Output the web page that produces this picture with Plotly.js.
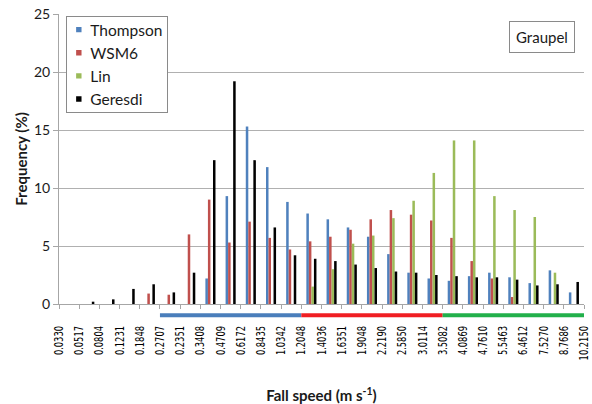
<!DOCTYPE html>
<html>
<head>
<meta charset="utf-8">
<script src="https://cdn.plot.ly/plotly-3.0.1.min.js"></script>
<style>
  html, body { margin: 0; padding: 0; background: #fff; }
  #chart { width: 592px; height: 404px; }
</style>
</head>
<body>
<div id="chart"></div>
<script>
// Fall-speed bin edges (m s-1), drawn as labels on the bin boundaries
const binEdges = ["0.0330", "0.0517", "0.0804", "0.1231", "0.1848", "0.2707", "0.2351",
  "0.3408", "0.4709", "0.6172", "0.8435", "1.0342", "1.2048", "1.4036", "1.6351",
  "1.9048", "2.2190", "2.5850", "3.0114", "3.5082", "4.0869", "4.7610", "5.5463",
  "6.4612", "7.5270", "8.7686", "10.2150"];

// Frequency (%) of graupel in each of the 26 fall-speed bins
const thompson = [0, 0, 0, 0, 0, 0, 0, 2.2, 9.3, 15.3, 11.8, 8.8, 7.8, 7.3, 6.6, 5.8,
  4.3, 2.7, 2.2, 2.0, 2.4, 2.7, 2.3, 1.8, 2.9, 1.0];
const wsm6 = [0, 0, 0, 0, 0.9, 0.8, 6.0, 9.0, 5.3, 7.1, 5.7, 4.7, 5.4, 5.8, 6.4, 7.3,
  8.1, 7.7, 7.2, 5.7, 3.7, 2.2, 0.6, 0, 0, 0];
const lin = [0, 0, 0, 0, 0, 0, 0, 0, 0, 0, 0, 0, 1.5, 3.0, 5.2, 5.9,
  7.4, 8.9, 11.3, 14.1, 14.1, 9.3, 8.1, 7.5, 2.7, 0];
const geresdi = [0, 0.2, 0.4, 1.3, 1.7, 1.0, 2.7, 12.4, 19.2, 12.4, 6.6, 4.2, 3.9, 3.7, 3.4, 3.1,
  2.8, 2.7, 2.5, 2.4, 2.3, 2.3, 2.1, 1.6, 1.7, 1.9];

const seriesNames = ["Thompson", "WSM6", "Lin", "Geresdi"];
const seriesValues = [thompson, wsm6, lin, geresdi];
const seriesColors = ["#4F81BD", "#C0504D", "#9BBB59", "#000000"];

// Coloured bands under the axis grouping bin ranges (bin-edge indices)
const bandEdges = [5, 12, 19, 26];
const bandColors = ["#4A7EBB", "#F01E23", "#22B04B"];

const baseFont = "Lato, 'Open Sans', sans-serif";

// bars sit between the edge labels, so bin i is centred at i + 0.5
const binCentres = thompson.map((_, i) => i + 0.5);

const traces = seriesNames.map((name, k) => ({
  type: "bar",
  name: name,
  x: binCentres,
  y: seriesValues[k],
  marker: { color: seriesColors[k], line: { width: 0 } },
  hoverinfo: "skip"
}));

const shapes = bandColors.map((c, i) => ({
  type: "line",
  xref: "x", yref: "paper",
  x0: bandEdges[i], x1: bandEdges[i + 1],
  y0: -0.039, y1: -0.039,
  line: { color: c, width: 4 }
}));

const layout = {
  width: 592, height: 404,
  margin: { l: 59, r: 8, t: 14, b: 100 },
  paper_bgcolor: "#fff", plot_bgcolor: "#fff",
  font: { family: baseFont, color: "#1a1a1a" },
  barmode: "group",
  bargap: 0.5,
  bargroupgap: 0,
  showlegend: true,
  legend: {
    x: 0.013, y: 0.993, xanchor: "left", yanchor: "top",
    bordercolor: "#8a8a8a", borderwidth: 1, bgcolor: "#fff",
    font: { family: baseFont, size: 15.5, color: "#1a1a1a" },
    tracegroupgap: 0
  },
  xaxis: {
    range: [0, 26],
    tickmode: "array",
    tickvals: binEdges.map((_, i) => i),
    ticktext: binEdges,
    tickangle: -90,
    tickfont: { family: "'Liberation Sans Narrow', 'DejaVu Sans Condensed', Lato, sans-serif", size: 12.5, color: "#000" },
    ticks: "outside", ticklen: 4, tickcolor: "#a6a6a6",
    ticklabelstandoff: 12,
    ticklabeloverflow: "allow",
    showline: true, linecolor: "#a6a6a6", linewidth: 1,
    showgrid: false, zeroline: false,
    fixedrange: true,
    title: {
      text: "<b>Fall speed (m s<sup>-1</sup>)</b>",
      font: { family: baseFont, size: 15, color: "#1a1a1a" },
      standoff: 28
    }
  },
  yaxis: {
    range: [0, 25],
    dtick: 5,
    tickfont: { family: baseFont, size: 14, color: "#1a1a1a" },
    ticks: "outside", ticklen: 5, tickcolor: "#a6a6a6",
    showline: true, linecolor: "#a6a6a6", linewidth: 1,
    showgrid: true, gridcolor: "#b0b0b0", gridwidth: 1,
    zeroline: false,
    fixedrange: true,
    title: {
      text: "<b>Frequency (%)</b>",
      font: { family: baseFont, size: 15, color: "#1a1a1a" },
      standoff: 2
    }
  },
  shapes: shapes,
  annotations: [{
    text: "Graupel",
    xref: "paper", yref: "paper",
    x: 0.92, y: 0.919, xanchor: "center", yanchor: "middle",
    showarrow: false,
    font: { family: baseFont, size: 15, color: "#1a1a1a" },
    bordercolor: "#8a8a8a", borderwidth: 1, borderpad: 6, bgcolor: "#fff"
  }]
};

// Compact legend: small swatches close to the frame, labels pulled in,
// rows lifted a little and the frame trimmed to fit
function compactLegend(gd) {
  const bg = gd.querySelector(".legend rect.bg");
  if (!bg) return;
  const frame = bg.getBoundingClientRect();
  const lift = 4;
  let rightMost = 0;
  gd.querySelectorAll(".legend .traces").forEach(item => {
    const pts = item.querySelector(".legendpoints");
    const txt = item.querySelector("text.legendtext");
    if (pts) {
      const b = pts.getBBox();
      const cx = b.x + b.width / 2;
      const r = pts.getBoundingClientRect();
      const screenCx = r.left + r.width / 2;
      const targetCx = cx + (frame.left + 12.5 - screenCx);
      pts.setAttribute("transform",
        "translate(" + targetCx + ",0) scale(0.45) translate(" + (-cx) + ",0)");
    }
    if (txt) {
      const tr = txt.getBoundingClientRect();
      const shift = (frame.left + 24) - tr.left;
      txt.setAttribute("x", parseFloat(txt.getAttribute("x") || 0) + shift);
      rightMost = Math.max(rightMost, tr.right + shift);
    }
    const m = /translate\(\s*([-\d.]+)[ ,]+([-\d.]+)\s*\)/.exec(item.getAttribute("transform") || "");
    if (m) {
      item.setAttribute("transform",
        "translate(" + m[1] + "," + (parseFloat(m[2]) - lift) + ")");
    }
  });
  if (rightMost > 0) {
    bg.setAttribute("width", rightMost - frame.left + 5);
  }
  bg.setAttribute("height", parseFloat(bg.getAttribute("height")) - 2 * lift);
}

// Shorter, denser bin-edge labels along the rotated axis
function tightenEdgeLabels(gd) {
  gd.querySelectorAll(".xtick text").forEach(t => {
    const len = t.getComputedTextLength();
    if (len > 0) {
      t.setAttribute("textLength", (len * 0.74).toFixed(2));
      t.setAttribute("lengthAdjust", "spacingAndGlyphs");
    }
  });
}

Plotly.newPlot("chart", traces, layout, { displayModeBar: false, staticPlot: true })
  .then(gd => { compactLegend(gd); tightenEdgeLabels(gd); });
</script>
</body>
</html>
